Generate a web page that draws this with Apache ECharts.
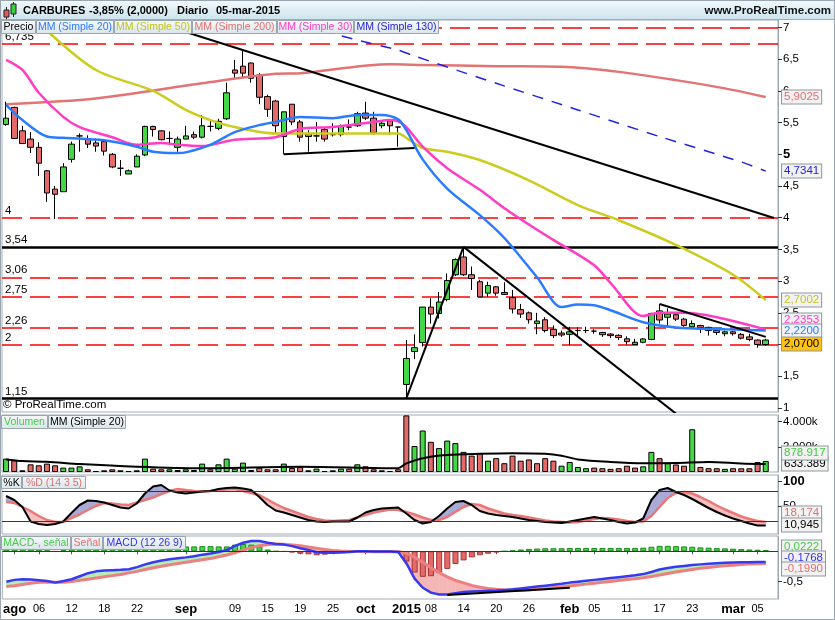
<!DOCTYPE html>
<html><head><meta charset="utf-8">
<script src="https://cdn.jsdelivr.net/npm/echarts@6/dist/echarts.min.js"></script>
<style>html,body{margin:0;padding:0;background:#fff}#c{width:835px;height:620px}</style>
</head><body><div id="c"></div>
<script>
// ---------------- DATA ----------------
const dates = ['31/07/14','01/08/14','04/08/14','05/08/14','06/08/14','07/08/14','08/08/14','11/08/14','12/08/14','13/08/14','14/08/14','15/08/14','18/08/14','19/08/14','20/08/14','21/08/14','22/08/14','25/08/14','26/08/14','27/08/14','28/08/14','29/08/14','01/09/14','02/09/14','03/09/14','04/09/14','05/09/14','08/09/14','09/09/14','10/09/14','11/09/14','12/09/14','15/09/14','16/09/14','17/09/14','18/09/14','19/09/14','22/09/14','23/09/14','24/09/14','25/09/14','26/09/14','29/09/14','30/09/14','01/10/14','02/10/14','03/10/14','06/10/14','07/10/14',
'05/01/15','06/01/15','07/01/15','08/01/15','09/01/15','12/01/15','13/01/15','14/01/15','15/01/15','16/01/15','19/01/15','20/01/15','21/01/15','22/01/15','23/01/15','26/01/15','27/01/15','28/01/15','29/01/15','30/01/15','02/02/15','03/02/15','04/02/15','05/02/15','06/02/15','09/02/15','10/02/15','11/02/15','12/02/15','13/02/15','16/02/15','17/02/15','18/02/15','19/02/15','20/02/15','23/02/15','24/02/15','25/02/15','26/02/15','27/02/15','02/03/15','03/03/15','04/03/15','05/03/15','06/03/15'];

const openP = [5.47,5.74,5.37,5.24,5.11,4.74,4.45,4.41,4.92,5.29,5.24,5.18,5.20,5.00,4.78,4.69,4.80,4.99,5.44,5.37,5.25,5.11,5.24,5.31,5.27,5.44,5.41,5.56,6.33,6.39,6.44,6.25,5.91,5.84,5.28,5.79,5.51,5.32,5.29,5.39,5.31,5.31,5.43,5.45,5.65,5.57,5.45,5.53,5.43,
 1.37,1.89,2.03,2.59,2.49,2.71,3.10,3.38,3.10,2.99,2.81,2.91,2.82,2.74,2.55,2.50,2.33,2.39,2.24,2.18,2.16,2.22,2.22,2.21,2.19,2.165,2.145,2.09,2.00,2.035,2.08,2.53,2.43,2.47,2.40,2.28,2.30,2.27,2.22,2.17,2.20,2.16,2.12,2.07,2.00];
const highP = [5.83,5.75,5.45,5.35,5.19,4.75,4.50,4.86,5.20,5.33,5.30,5.25,5.23,5.02,4.91,4.76,5.00,5.45,5.45,5.38,5.36,5.28,5.45,5.36,5.62,5.53,5.56,6.13,6.49,6.63,6.45,6.28,5.94,5.86,5.67,5.79,5.54,5.38,5.51,5.43,5.49,5.47,5.55,5.67,5.83,5.67,5.52,5.53,5.43,
 2.07,2.16,2.59,2.73,2.83,3.12,3.36,3.54,3.23,3.02,2.99,2.92,2.98,2.86,2.64,2.52,2.50,2.43,2.30,2.22,2.28,2.27,2.28,2.24,2.20,2.18,2.16,2.13,2.09,2.10,2.50,2.64,2.57,2.50,2.42,2.38,2.31,2.28,2.24,2.22,2.22,2.18,2.17,2.08,2.09];
const lowP = [5.45,5.24,5.16,5.02,4.66,4.25,3.98,4.41,4.87,5.04,5.10,5.04,4.98,4.78,4.66,4.69,4.80,4.97,5.28,5.22,5.15,5.04,5.24,5.24,5.25,5.36,5.38,5.54,6.20,6.22,6.13,5.79,5.59,5.33,5.00,5.46,5.20,5.04,5.20,5.20,5.28,5.28,5.38,5.43,5.54,5.31,5.41,5.31,5.12,
 1.15,1.77,1.97,2.33,2.41,2.68,3.08,3.08,2.86,2.75,2.75,2.77,2.78,2.49,2.42,2.33,2.16,2.19,2.10,2.12,1.99,2.15,2.18,2.17,2.12,2.10,2.07,2.00,1.99,2.02,2.07,2.33,2.27,2.37,2.28,2.24,2.18,2.14,2.15,2.13,2.14,2.08,2.05,1.95,1.98];
const closeP = [5.57,5.25,5.17,5.11,4.86,4.39,4.37,4.80,5.16,5.29,5.16,5.13,5.05,4.80,4.78,4.74,4.97,5.44,5.39,5.23,5.25,5.24,5.29,5.27,5.45,5.44,5.52,5.97,6.28,6.28,6.20,5.90,5.71,5.45,5.67,5.51,5.27,5.28,5.29,5.24,5.31,5.44,5.43,5.64,5.57,5.34,5.49,5.45,5.43,
 1.78,1.95,2.59,2.48,2.67,3.01,3.34,3.10,3.04,2.75,2.93,2.81,2.79,2.56,2.48,2.39,2.37,2.22,2.14,2.15,2.20,2.22,2.22,2.21,2.155,2.14,2.11,2.045,2.035,2.087,2.49,2.386,2.48,2.40,2.30,2.33,2.27,2.22,2.19,2.20,2.17,2.10,2.08,2.00,2.07];

// volume in thousands of shares
const volume = [1064,929,135,611,532,667,532,349,349,453,214,80,135,214,135,80,135,1064,270,214,214,159,214,159,667,214,611,1064,270,746,159,349,214,214,667,318,397,135,270,80,135,270,270,611,453,214,135,80,214,
 4500,2064,3300,2400,1900,2500,2300,1600,1300,1500,900,1100,700,1300,900,1000,700,1100,900,500,800,400,300,350,300,250,300,500,350,450,1600,1100,700,600,500,3400,400,300,300,250,300,294,294,794,878.917];
const volMA20 = [[0,1000],[2,870],[5,820],[9,635],[16,420],[24,294],[36,421],[48,294],[49,690],[51,1100],[54,1350],[58,1450],[62,1500],[66,1450],[68,1300],[70,1000],[74,800],[78,700],[82,720],[86,800],[90,680],[93,633.389]];

// moving averages on price: [bar index, value]
const sma20 = [[0,5.78],[2,5.54],[5,5.28],[7,5.26],[12,5.22],[16,5.12],[18,5.04],[21,5.02],[22,5.03],[25,5.15],[28,5.35],[31,5.46],[33,5.51],[36,5.59],[40,5.57],[43,5.62],[46,5.62],[48,5.55],[49,5.38],[51,4.92],[54,4.46],[58,4.04],[61,3.68],[65,3.06],[68,2.59],[70,2.63],[72,2.62],[74,2.54],[78,2.35],[82,2.27],[88,2.24],[93,2.22]];
const sma50 = [[3,7.25],[5,6.95],[11,6.33],[18,6.0],[22,5.70],[25,5.54],[28,5.43],[33,5.33],[36,5.33],[44,5.33],[48,5.33],[49,5.26],[51,5.10],[54,5.04],[58,4.91],[64,4.59],[70,4.20],[75,3.96],[82,3.57],[89,3.10],[93,2.7002]];
const sma200 = [[0,5.79],[11,5.88],[24,6.12],[33,6.27],[36,6.28],[47,6.42],[51,6.41],[60,6.39],[68,6.38],[75,6.30],[82,6.17],[88,6.04],[93,5.9025]];
const sma30 = [[0,6.49],[2,6.33],[4,5.97],[7,5.59],[9,5.43],[13,5.27],[16,5.15],[19,5.18],[21,5.15],[24,5.13],[28,5.23],[33,5.27],[36,5.40],[40,5.43],[45,5.51],[47,5.54],[48,5.52],[49,5.43],[51,5.12],[54,4.78],[58,4.44],[61,4.15],[65,3.81],[67,3.65],[72,3.25],[74,2.97],[78,2.45],[80,2.50],[83,2.50],[93,2.2353]];
const sma130 = [[34,7.12],[43,6.80],[48,6.645],[50,6.55],[60,6.12],[70,5.70],[80,5.28],[90,4.88],[93,4.7341]];

// drawn trend lines: [bar index, price]
const trendA = [[22,6.93],[94,3.995]];
const trendB = [[34,5.0],[50,5.1]];
const trendC = [[49,1.15],[56,3.54]];
const trendD = [[56,3.54],[82,0.91]];
const trendE = [[80,2.64],[93,2.12]];
const macdTrend = [[54,-0.72],[69,-0.60]];

// horizontal levels
const hLevels = [7, 6.735, 4, 3.54, 3.06, 2.75, 2.26, 2, 1.15];
const hLabels = ['', '6,735', '4', '3,54', '3,06', '2,75', '2,26', '2', '1,15'];

// Stochastic %K / %D (14 3 5)
const stochK = [70,62,48,19,14,12,14,19,36,52,61,60,57,52,47,45,55,75,89,92,81,77,75,77,79,80,84,86,87,85,82,68,52,41,37,32,27,22,19,18,19,19,19,27,37,42,45,46,47,
 35,22,15,18,30,45,58,60,52,40,35,32,30,28,25,22,20,18,17,16,19,22,25,28,25,22,18,15,17,25,62,82,86,78,72,64,55,46,38,31,25,20,15,11,10.945];
const stochD = [58,56,48,40,30,22,18,18,26,33,42,50,56,55,53,52,57,62,67,74,80,84,82,80,79,80,82,83,84,80,76,72,63,54,46,40,34,28,24,21,20,21,22,27,32,37,40,43,42,
 38,33,27,22,22,28,38,48,54,52,45,40,35,32,30,27,24,21,19,18,17,18,21,24,26,25,23,20,18,19,30,48,66,76,78,75,68,60,51,43,36,29,24,20,18.174];

// MACD (12 26 9)
const macdLine = [-0.50,-0.47,-0.46,-0.465,-0.475,-0.49,-0.515,-0.49,-0.46,-0.41,-0.36,-0.33,-0.315,-0.31,-0.305,-0.295,-0.26,-0.215,-0.18,-0.15,-0.13,-0.115,-0.10,-0.08,-0.055,-0.035,-0.01,0.02,0.09,0.14,0.17,0.17,0.14,0.12,0.11,0.085,0.05,0.02,-0.015,-0.025,-0.023,-0.02,-0.01,0.0,0.0,-0.005,-0.005,-0.005,-0.01,
 -0.20,-0.45,-0.60,-0.68,-0.71,-0.71,-0.69,-0.67,-0.66,-0.655,-0.65,-0.645,-0.635,-0.625,-0.61,-0.595,-0.58,-0.565,-0.55,-0.535,-0.515,-0.50,-0.485,-0.47,-0.455,-0.44,-0.425,-0.41,-0.395,-0.375,-0.34,-0.30,-0.275,-0.255,-0.24,-0.225,-0.215,-0.205,-0.197,-0.19,-0.185,-0.182,-0.18,-0.178,-0.1768];
const signalLine = [-0.58,-0.565,-0.545,-0.525,-0.51,-0.505,-0.51,-0.51,-0.495,-0.475,-0.46,-0.44,-0.42,-0.40,-0.38,-0.355,-0.33,-0.30,-0.27,-0.245,-0.22,-0.20,-0.18,-0.16,-0.14,-0.12,-0.09,-0.06,-0.02,0.02,0.06,0.09,0.11,0.12,0.115,0.105,0.09,0.07,0.05,0.03,0.015,0.005,0.0,-0.003,-0.005,-0.006,-0.006,-0.006,-0.007,
 -0.03,-0.10,-0.18,-0.27,-0.35,-0.42,-0.48,-0.52,-0.56,-0.59,-0.61,-0.625,-0.635,-0.64,-0.64,-0.635,-0.625,-0.615,-0.60,-0.585,-0.57,-0.555,-0.54,-0.525,-0.51,-0.495,-0.48,-0.465,-0.45,-0.435,-0.415,-0.39,-0.365,-0.34,-0.32,-0.30,-0.28,-0.265,-0.25,-0.238,-0.228,-0.218,-0.21,-0.204,-0.199];

// axis ticks
const priceTicks = [1,1.5,2,2.5,3,3.5,4,4.5,5,5.5,6,6.5,7];
const volTicks = [2000,4000];
const stochTicks = [50,100];
const macdTicks = [-0.5];
const xTickIdx = [1,4,8,12,16,22,28,32,36,40,44,49,52,56,60,64,69,72,76,80,84,89,92];
const xTickText = ['ago','06','12','18','22','sep','09','15','19','25','oct','2015','08','14','20','26','feb','05','11','17','23','mar','05'];

// ---------------- CHART ----------------
const FONT = '"Liberation Sans", Arial, sans-serif';
const chart = echarts.init(document.getElementById('c'), null, {renderer:'canvas', width:835, height:620});
const cats = dates.concat(['']);
const fmtC = (v, d) => v.toFixed(d).replace('.', ',');
const GREEN = '#45d845', RED = '#e46a6a';
const tickMap = {}; xTickIdx.forEach((i, k) => tickMap[i] = xTickText[k]);

const gridBase = {show:true, borderColor:'#a3adb5', borderWidth:1, backgroundColor:'#fff', containLabel:false};
const grids = [
  Object.assign({left:2, top:20, width:776, height:392}, gridBase),
  Object.assign({left:2, top:415, width:776, height:57}, gridBase),
  Object.assign({left:2, top:475, width:776, height:59}, gridBase),
  Object.assign({left:2, top:536, width:776, height:63}, gridBase)
];
const xAxes = [0,1,2,3].map(g => ({type:'category', gridIndex:g, data:cats, boundaryGap:true, show:g===3,
  axisLine:{show:false},
  axisTick:{show:true, alignWithLabel:true, length:3, interval:(i)=>tickMap[i]!==undefined, lineStyle:{color:'#555'}},
  axisLabel:{interval:(i)=>tickMap[i]!==undefined, margin:4, color:'#000',
    formatter:(v,i)=>{const t = tickMap[i]; if(t===undefined) return ''; return (isNaN(Number(t))||t==='2015') ? '{m|'+t+'}' : '{d|'+t+'}';},
    rich:{m:{fontWeight:'bold', fontSize:13, fontFamily:FONT, color:'#000'}, d:{fontSize:11, fontFamily:FONT, color:'#000'}}},
  splitLine:{show:false}}));

function yAx(gi, min, max, vals, fmt) {
  return {type:'value', gridIndex:gi, position:'right', min, max,
    axisLine:{show:true, lineStyle:{color:'#9aa5ae'}},
    axisTick:{show:true, length:4, customValues:vals, lineStyle:{color:'#333'}},
    axisLabel:{customValues:vals, formatter:fmt, color:'#000', fontSize:11.5, fontFamily:FONT, margin:5,
      rich:{b:{fontWeight:'bold', fontSize:13, fontFamily:FONT, color:'#000'}}},
    splitLine:{show:false}};
}
const yAxes = [
  yAx(0, 0.9353, 7.1183, priceTicks, v => v===5 ? '{b|5}' : String(v).replace('.', ',')),
  yAx(1, 0, 4533, volTicks, v => (v/1000).toFixed(3) + 'k'),
  yAx(2, -6, 112, stochTicks, v => v===100 ? '{b|100}' : String(v)),
  yAx(3, -0.7845, 0.2516, macdTicks, v => String(v).replace('.', ','))
];

function maLine(data, color, extra) {
  return Object.assign({type:'line', xAxisIndex:0, yAxisIndex:0, data, showSymbol:false, smooth:0.3, silent:true, z:3,
    lineStyle:{color, width:2.5}}, extra || {});
}
function trend(data, xi, yi) {
  return {type:'line', xAxisIndex:xi||0, yAxisIndex:yi||0, data, showSymbol:false, silent:true, z:4, lineStyle:{color:'#000', width:2}};
}
function band(xi, yi, A, B, cUp, cDn) {
  const data = A.slice(0, -1).map((a, i) => [i, a, B[i], A[i+1], B[i+1]]);
  return {type:'custom', xAxisIndex:xi, yAxisIndex:yi, silent:true, z:1, clip:true,
    renderItem:(params, api) => {
      const i = api.value(0);
      const va0 = api.value(1), vb0 = api.value(2), va1 = api.value(3), vb1 = api.value(4);
      const a0 = api.coord([i, va0]), b0 = api.coord([i, vb0]);
      const a1 = api.coord([i+1, va1]), b1 = api.coord([i+1, vb1]);
      const d0 = va0 - vb0, d1 = va1 - vb1;
      const ch = [];
      const poly = (pts, up) => ch.push({type:'polygon', shape:{points:pts}, style:{fill: up ? cUp : cDn, stroke: up ? cUp : cDn, lineWidth:0.5}});
      if (d0 * d1 >= 0) poly([a0, a1, b1, b0], d0 + d1 >= 0);
      else {
        const t = d0 / (d0 - d1);
        const c = [a0[0] + (a1[0]-a0[0])*t, a0[1] + (a1[1]-a0[1])*t];
        poly([a0, c, b0], d0 > 0); poly([c, a1, b1], d1 > 0);
      }
      return {type:'group', children:ch};
    },
    encode:{x:0, y:[1,2,3,4]}, data};
}

const candleData = dates.map((d, i) => [openP[i], closeP[i], lowP[i], highP[i]]);
const volData = volume.map((v, i) => ({value:v, itemStyle:{color: (i===0 || closeP[i] >= closeP[i-1]) ? GREEN : RED}}));
const hist = macdLine.map((m, i) => +(m - signalLine[i]).toFixed(4));
const histData = hist.map(h => ({value:h, itemStyle:{color: h >= 0 ? GREEN : RED, borderColor: h >= 0 ? '#1d8a1d' : '#a83232'}}));

const markLines = hLevels.map((v, k) => {
  const solid = (v === 3.54 || v === 1.15);
  return {yAxis:v, name:hLabels[k],
    lineStyle: solid ? {color:'#000', width:2.5, type:'solid'} : {color:'#ff0000', width:1.5, type:[20,8]},
    label:{show:hLabels[k] !== '', formatter:hLabels[k], position:'insideStartTop', distance:[3,1], color:'#000', fontSize:11.5, fontFamily:FONT}};
});

const series = [
  {type:'candlestick', xAxisIndex:0, yAxisIndex:0, data:candleData, barWidth:6, z:2, silent:true,
    itemStyle:{color:GREEN, color0:RED, borderColor:'#000', borderColor0:'#000', borderColorDoji:'#000', borderWidth:1},
    markLine:{silent:true, symbol:['none','none'], z:1, data:markLines, animation:false}},
  maLine(sma200, '#e27474'),
  maLine(sma50, '#cccc1e'),
  maLine(sma30, '#ff3cc4'),
  maLine(sma20, '#2a7cff'),
  maLine(sma130, '#2222dd', {lineStyle:{color:'#2222dd', width:1.5, type:[11,9]}, smooth:0.2}),
  trend(trendA), trend(trendB), trend(trendC), trend(trendD), trend(trendE),
  // volume
  {type:'bar', xAxisIndex:1, yAxisIndex:1, data:volData, barWidth:6, silent:true, z:2, itemStyle:{borderColor:'#000', borderWidth:1}},
  {type:'line', xAxisIndex:1, yAxisIndex:1, data:volMA20, showSymbol:false, smooth:0.3, silent:true, z:3, lineStyle:{color:'#000', width:2}},
  // stochastic
  band(2, 2, stochK, stochD, '#a9a9d6', '#f6bebe'),
  {type:'line', xAxisIndex:2, yAxisIndex:2, data:stochD, showSymbol:false, silent:true, z:3, lineStyle:{color:'#e87878', width:2.5},
    markLine:{silent:true, symbol:['none','none'], label:{show:false}, lineStyle:{color:'#2323cc', width:1, type:'solid'}, data:[{yAxis:20},{yAxis:80}]}},
  {type:'line', xAxisIndex:2, yAxisIndex:2, data:stochK, showSymbol:false, silent:true, z:4, lineStyle:{color:'#000', width:2}},
  // MACD
  {type:'bar', xAxisIndex:3, yAxisIndex:3, data:histData, barWidth:6, silent:true, z:2, itemStyle:{borderWidth:1}},
  band(3, 3, macdLine, signalLine, '#b4ecb4', '#f5b6b6'),
  {type:'line', xAxisIndex:3, yAxisIndex:3, data:signalLine, showSymbol:false, silent:true, z:3, lineStyle:{color:'#ec8080', width:3},
    markLine:{silent:true, symbol:['none','none'], label:{show:false}, lineStyle:{color:'#2323cc', width:1, type:'solid'}, data:[{yAxis:0}]}},
  {type:'line', xAxisIndex:3, yAxisIndex:3, data:macdLine, showSymbol:false, silent:true, z:4, lineStyle:{color:'#3838f2', width:2.5}},
  trend(macdTrend, 3, 3)
];

chart.setOption({animation:false, backgroundColor:'#fff', grid:grids, xAxis:xAxes, yAxis:yAxes, series});

// ---------- overlays: header, legends, value boxes ----------
const G = [];
const grad = (a, b) => new echarts.graphic.LinearGradient(0,0,0,1,[{offset:0,color:a},{offset:1,color:b}]);
G.push({type:'rect', shape:{x:0, y:0, width:835, height:19.5}, style:{fill:grad('#f2fafd','#cde3ed'), stroke:'#a0aab2', lineWidth:1}, z:100});
// icon
G.push({type:'line', shape:{x1:6.5,y1:7,x2:6.5,y2:19}, style:{stroke:'#222', lineWidth:1}, z:101});
G.push({type:'rect', shape:{x:4, y:10, width:5, height:7}, style:{fill:'#e05a5a', stroke:'#222', lineWidth:1}, z:102});
G.push({type:'line', shape:{x1:13.5,y1:2,x2:13.5,y2:17}, style:{stroke:'#222', lineWidth:1}, z:101});
G.push({type:'rect', shape:{x:11, y:4, width:5, height:10}, style:{fill:'#3ccf3c', stroke:'#222', lineWidth:1}, z:102});
[[23,'CARBURES'],[89,'-3,85% (2,0000)'],[177,'Diario'],[216,'05-mar-2015']].forEach(([x,t]) =>
  G.push({type:'text', x, y:11, style:{text:t, fill:'#000', font:'bold 11px '+FONT, verticalAlign:'middle'}, z:103}));
G.push({type:'text', x:831, y:11, style:{text:'www.ProRealTime.com', fill:'#111', font:'bold 11.5px '+FONT, align:'right', verticalAlign:'middle'}, z:103});
G.push({type:'text', x:3, y:405, style:{text:'© ProRealTime.com', fill:'#000', font:'11.5px '+FONT, verticalAlign:'middle'}, z:103});

function legendRow(y, h, items) {
  items.forEach(([x0, x1, t, c]) => {
    G.push({type:'rect', shape:{x:x0+0.5, y:y+0.5, width:x1-x0, height:h}, style:{fill:grad('#f7fafb','#d9e4ea'), stroke:'#9aa6ae', lineWidth:1}, z:110});
    G.push({type:'text', x:(x0+x1)/2+0.5, y:y+h/2+1, style:{text:t, fill:c, font:'10.5px '+FONT, align:'center', verticalAlign:'middle'}, z:111});
  });
}
legendRow(20, 13, [[1,35,'Precio','#000'],[36,113,'MM (Simple 20)','#2a7cff'],[114,191,'MM (Simple 50)','#c4c41a'],[192,276,'MM (Simple 200)','#e07070'],[277,353,'MM (Simple 30)','#ff3cc4'],[354,438,'MM (Simple 130)','#2424d8']]);
legendRow(415, 13, [[1,47,'Volumen','#44cc44'],[48,125,'MM (Simple 20)','#000']]);
legendRow(476, 12, [[1,21,'%K','#000'],[22,85,'%D (14 3 5)','#e07070']]);
legendRow(536, 13, [[1,70,'MACD-, señal','#44cc44'],[71,102,'Señal','#e07070'],[103,185,'MACD (12 26 9)','#3333ee']]);

const last = a => a[a.length-1];
const lastV = a => { const l = last(a); return Array.isArray(l) ? l[1] : l; };
const boxes = [
  [0, lastV(sma200), fmtC(lastV(sma200),4), '#e07070', '#f2f2f2', 0],
  [0, lastV(sma130), fmtC(lastV(sma130),4), '#2222dd', '#f2f2f2', 0],
  [0, lastV(sma50), fmtC(lastV(sma50),4), '#c4c41a', '#f2f2f2', 0],
  [0, lastV(sma30), fmtC(lastV(sma30),4), '#ff3cc4', '#f2f2f2', -10],
  [0, lastV(sma20), fmtC(lastV(sma20),4), '#2a7cff', '#f2f2f2', 0],
  [0, last(closeP), fmtC(last(closeP),4), '#000', '#ffc20e', 4],
  [1, lastV(volMA20), lastV(volMA20).toFixed(3), '#000', '#f2f2f2', 0],
  [1, last(volume), last(volume).toFixed(3), '#44cc44', '#f2f2f2', -8],
  [2, last(stochD), fmtC(last(stochD),3), '#e07070', '#f2f2f2', -9],
  [2, last(stochK), fmtC(last(stochK),3), '#000', '#f2f2f2', -1],
  [3, last(hist), fmtC(last(hist),4), '#44cc44', '#f2f2f2', -3],
  [3, last(macdLine), fmtC(last(macdLine),4), '#3333ee', '#f2f2f2', -4],
  [3, last(signalLine), fmtC(last(signalLine),4), '#e07070', '#f2f2f2', 6]
];
boxes.forEach(([ax, v, t, c, bg, dy], k) => {
  const y = chart.convertToPixel({yAxisIndex:ax}, v) + dy;
  G.push({type:'text', x:782, y:Math.round(y), style:{text:t, fill:c, font:'11.5px '+FONT, verticalAlign:'middle',
    backgroundColor:bg, borderColor:'#8e989f', borderWidth:1, padding:[1,2,0,2]}, z:120+k});
});
G.push({type:'rect', shape:{x:0.5, y:0.5, width:834, height:619}, style:{fill:'none', stroke:'#9aa5ae', lineWidth:1}, z:200});
chart.setOption({graphic:G});
</script></body></html>
